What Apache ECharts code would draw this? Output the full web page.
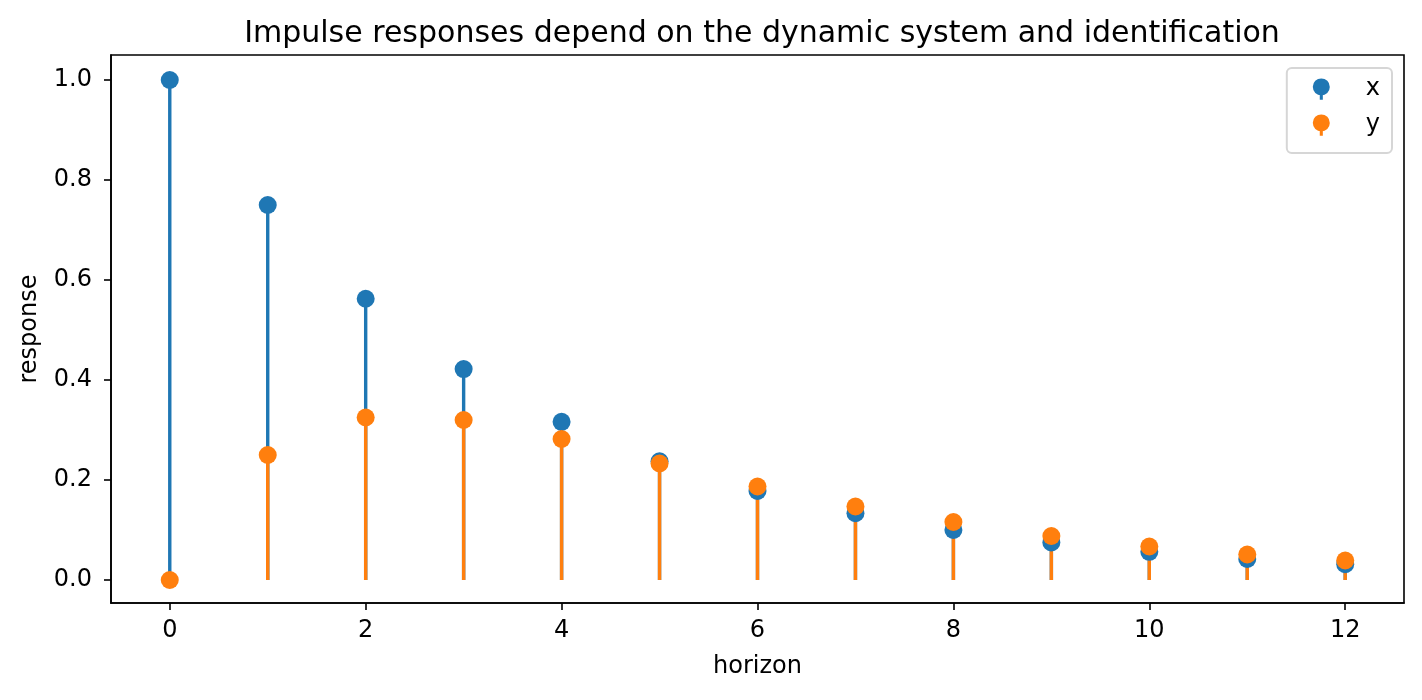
<!DOCTYPE html>
<html>
<head>
<meta charset="utf-8">
<script src="https://cdn.jsdelivr.net/npm/echarts@6/dist/echarts.min.js"></script>
<style>
html,body{margin:0;padding:0;background:#fff;}
#chart{width:1422px;height:700px;}
</style>
</head>
<body>
<div id="chart"></div>
<script>
var horizons = [0,1,2,3,4,5,6,7,8,9,10,11,12];
var xResponse = [1.0,0.75,0.5625,0.4219,0.3164,0.2373,0.178,0.1335,0.1001,0.0751,0.0563,0.0422,0.0317];
var yResponse = [0.0,0.25,0.325,0.32,0.282,0.233,0.187,0.147,0.116,0.088,0.067,0.051,0.039];
var xTicks = [0,2,4,6,8,10,12];
var yTicks = [0,0.2,0.4,0.6,0.8,1.0];

var blue = '#1f77b4', orange = '#ff7f0e';
var font = 'DejaVu Sans';

function pairs(vals){ return horizons.map(function(h,i){ return [h, vals[i]]; }); }

function stemSeries(name, vals, color){
  return {
    name: name,
    type: 'custom',
    data: pairs(vals),
    itemStyle: {color: color},
    renderItem: function(params, api){
      var p0 = api.coord([api.value(0), 0]);
      var p1 = api.coord([api.value(0), api.value(1)]);
      return {
        type: 'line',
        shape: {x1:p0[0], y1:p0[1], x2:p1[0], y2:p1[1]},
        style: {stroke: color, lineWidth: 3.4}
      };
    },
    silent: true
  };
}
function dotSeries(name, vals, color){
  return {
    name: name,
    type: 'scatter',
    data: pairs(vals),
    symbol: 'circle',
    symbolSize: 18,
    itemStyle: {color: color, opacity: 1},
    silent: true
  };
}

var icon = 'path://M10,0 A10,10 0 1,1 9.99,0 Z M8.2,18 L11.8,18 L11.8,25 L8.2,25 Z';

var chart = echarts.init(document.getElementById('chart'), null, {renderer:'canvas'});
chart.setOption({
  animation: false,
  backgroundColor: '#fff',
  title: {
    text: 'Impulse responses depend on the dynamic system and identification',
    left: 757, top: 14, textAlign: 'center',
    textStyle: {fontFamily: font, fontSize: 30, fontWeight: 'normal', color: '#000'}
  },
  legend: {
    data: [{name:'x', itemStyle:{color: blue}}, {name:'y', itemStyle:{color: orange}}],
    orient: 'vertical',
    right: 30, top: 68,
    icon: icon,
    itemWidth: 17, itemHeight: 22,
    itemGap: 12,
    padding: [9, 12, 16, 26],
    borderColor: '#d6d6d6', borderWidth: 2, borderRadius: 5,
    backgroundColor: '#fff',
    textStyle: {fontFamily: font, fontSize: 24, color: '#000', lineHeight: 22, padding: [0,0,0,31]}
  },
  grid: {
    left: 111, right: 18, top: 55, bottom: 97,
    show: true, borderColor: '#000', borderWidth: 1.6, backgroundColor: 'transparent'
  },
  xAxis: {
    type: 'value', min: -0.6, max: 12.6,
    name: 'horizon', nameLocation: 'middle', nameGap: 52,
    nameTextStyle: {fontFamily: font, fontSize: 24, color: '#000'},
    axisLine: {show: true, onZero: false, lineStyle: {color:'#000', width:1.6}},
    axisTick: {show: true, length: 7, lineStyle: {color:'#000', width:1.6}, customValues: xTicks},
    axisLabel: {fontFamily: font, fontSize: 24, color: '#000', margin: 16, customValues: xTicks},
    splitLine: {show: false}
  },
  yAxis: {
    type: 'value', min: -0.046, max: 1.05,
    name: 'response', nameLocation: 'middle', nameGap: 69,
    nameTextStyle: {fontFamily: font, fontSize: 24, color: '#000'},
    axisLine: {show: true, onZero: false, lineStyle: {color:'#000', width:1.6}},
    axisTick: {show: true, length: 7, lineStyle: {color:'#000', width:1.6}, customValues: yTicks},
    axisLabel: {fontFamily: font, fontSize: 24, color: '#000', margin: 19, customValues: yTicks,
      formatter: function(v){ return v.toFixed(1); }},
    splitLine: {show: false}
  },
  series: [
    stemSeries('x', xResponse, blue),
    dotSeries('x', xResponse, blue),
    stemSeries('y', yResponse, orange),
    dotSeries('y', yResponse, orange)
  ]
});
</script>
</body>
</html>
